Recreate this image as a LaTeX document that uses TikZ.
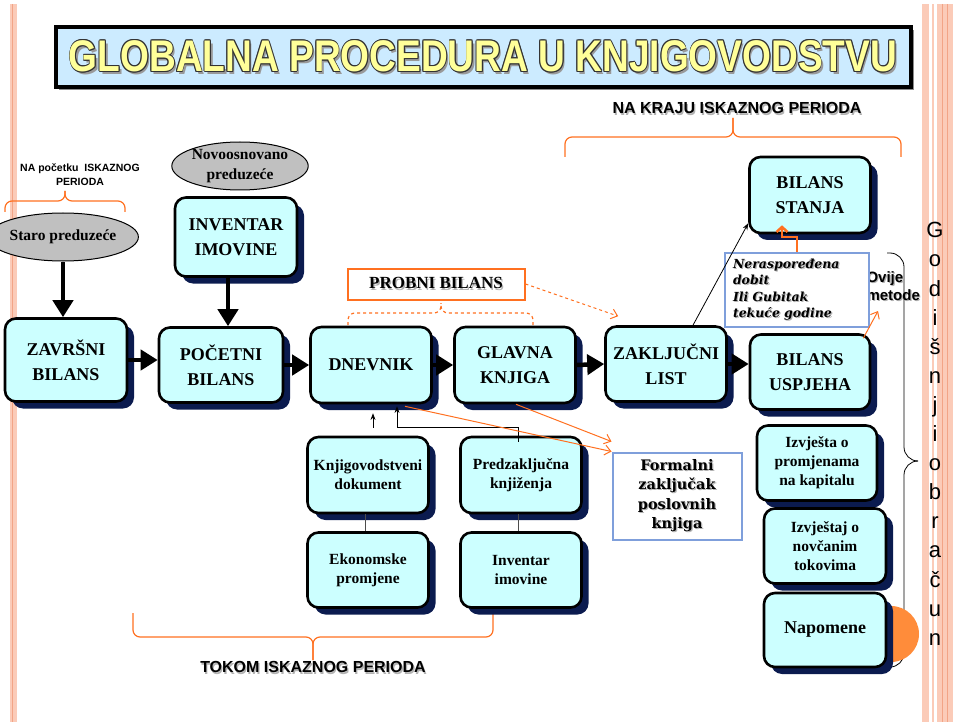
\documentclass[tikz,border=0pt]{standalone}
\usepackage{fontspec}
\usepackage{graphicx}
\setmainfont{Liberation Serif}
\setsansfont{Liberation Sans}
\newfontfamily\schfont{DejaVu Serif}
\usetikzlibrary{shapes.geometric, arrows.meta, positioning, shadows}

\definecolor{boxfill}{HTML}{CCFFFF}
\definecolor{boxshadow}{HTML}{0B1B4F}
\definecolor{framefill}{HTML}{CCEBFF}
\definecolor{titleyellow}{HTML}{FFFF99}
\definecolor{titleedge}{HTML}{333333}
\definecolor{lineorange}{HTML}{FF7020}
\definecolor{dotorange}{HTML}{FF8C3A}
\definecolor{ovalgray}{HTML}{C0C0C0}
\definecolor{noteblue}{HTML}{7F9FDB}
\definecolor{stripe}{HTML}{FBCBB8}
\definecolor{stripeline}{HTML}{F2A486}

% text with a soft shadow
\newcommand\shd[1]{\leavevmode\rlap{\hspace*{1.2pt}\raisebox{-1.2pt}{\color{black!30}#1}}#1}
% outlined title letters
\newcommand\outlined[1]{%
  \rlap{\hspace*{2.5pt}\raisebox{-2.5pt}{\color{black!40}#1}}%
  \rlap{\hspace*{-1pt}\color{titleedge}#1}%
  \rlap{\hspace*{1pt}\color{titleedge}#1}%
  \rlap{\raisebox{1pt}{\color{titleedge}#1}}%
  \rlap{\raisebox{-1pt}{\color{titleedge}#1}}%
  \rlap{\hspace*{0.7pt}\raisebox{0.7pt}{\color{titleedge}#1}}%
  \rlap{\hspace*{-0.7pt}\raisebox{-0.7pt}{\color{titleedge}#1}}%
  \rlap{\hspace*{0.7pt}\raisebox{-0.7pt}{\color{titleedge}#1}}%
  \rlap{\hspace*{-0.7pt}\raisebox{0.7pt}{\color{titleedge}#1}}%
  {\color{titleyellow}#1}}

\begin{document}
\begin{tikzpicture}[x=1pt, y=-1pt, >=Stealth,
    blk/.style={draw, line width=2.6pt, rounded corners=11pt, fill=boxfill, align=center, inner sep=1pt,
      general shadow={fill=boxshadow, shadow xshift=7pt, shadow yshift=-7pt}},
    bigbox/.style={blk, font=\bfseries\fontsize{18}{25}\selectfont},
    smallbox/.style={blk, font=\bfseries\fontsize{15.5}{19}\selectfont},
    oval/.style={draw, line width=1pt, ellipse, fill=ovalgray, align=center, inner sep=0pt,
      font=\bfseries\fontsize{15.5}{20}\selectfont},
    notebox/.style={draw=noteblue, line width=2pt, fill=white, align=center},
    bigarr/.style={line width=4.5pt, -{Triangle[length=17pt, width=20pt]}},
    thinarr/.style={line width=0.8pt, ->},
    orarr/.style={draw=lineorange, line width=1pt, -{Straight Barb[length=6pt, width=10pt]}},
    obrace/.style={draw=lineorange, line width=1.2pt, rounded corners=7pt},
    period/.style={font=\sffamily\bfseries\fontsize{16}{18}\selectfont}]

    \useasboundingbox (0,0) rectangle (953,722);

    % side stripes
    \fill[stripe] (10,4) rectangle (17,722);
    \draw[stripeline, line width=1pt] (12.5,4) -- (12.5,722);
    \fill[stripe] (922,4) rectangle (929,722);
    \fill[stripe] (932,4) rectangle (934,722);
    \fill[stripe] (937,4) rectangle (953,722);
    \draw[stripeline, line width=0.8pt] (942,4) -- (942,722) (947,4) -- (947,722);

    % title
    \node[draw, line width=4pt, fill=framefill, minimum width=855, minimum height=60,
      font=\sffamily\bfseries\fontsize{42}{42}\selectfont,
      general shadow={fill=black!45, shadow xshift=3pt, shadow yshift=-3pt}] (naslov) at (483,57)
      {\resizebox{828pt}{32pt}{\outlined{GLOBALNA PROCEDURA U KNJIGOVODSTVU}}};

    % period labels and braces
    \node[period] (kraj) at (737,109) {\shd{NA KRAJU ISKAZNOG PERIODA}};
    \node[period] (tokom) at (313,668) {\shd{TOKOM ISKAZNOG PERIODA}};
    \node[font=\sffamily\bfseries\fontsize{10.5}{14}\selectfont, align=center] (pocetak) at (80,175)
      {NA početku\ \ ISKAZNOG\\PERIODA};
    \draw[obrace] (5,212) |- (65,201) -- (65,191);
    \draw[obrace] (125,212) |- (65,201) -- (65,191);
    \draw[obrace] (565,157) |- (733,137) -- (733,118);
    \draw[obrace] (901,157) |- (733,137) -- (733,118);
    \draw[obrace] (133,613) |- (313,637) -- (313,660);
    \draw[obrace] (493,613) |- (313,637) -- (313,660);
    \draw[obrace, dashed] (348,325) |- (441,313) -- (441,303);
    \draw[obrace, dashed] (533,325) |- (441,313) -- (441,303);
    \draw[line width=0.8pt, rounded corners=14pt] (887,253) -| (904,461) -- (918,461);
    \draw[line width=0.8pt, rounded corners=14pt] (887,667) -| (904,461) -- (918,461);

    \node[font=\sffamily\fontsize{22}{29.1}\selectfont, align=center, anchor=north] (godisnji) at (935,219)
      {G\\o\\d\\i\\š\\n\\j\\i\\o\\b\\r\\a\\č\\u\\n};

    % ovals
    \node[oval, minimum width=117, minimum height=48] (staro) at (63,237) {Staro preduzeće};
    \node[oval, minimum width=115, minimum height=48] (novo) at (240,166) {Novoosnovano\\preduzeće};

    % main row
    \node[bigbox, minimum width=122, minimum height=83] (zav) at (66,360) {ZAVRŠNI\\BILANS};
    \node[bigbox, minimum width=124, minimum height=75] (poc) at (221,365) {POČETNI\\BILANS};
    \node[bigbox, minimum width=122, minimum height=79] (inv) at (236,237) {INVENTAR\\IMOVINE};
    \node[bigbox, minimum width=121, minimum height=76] (dne) at (371,365) {DNEVNIK};
    \node[bigbox, minimum width=121, minimum height=76] (gla) at (515,365) {GLAVNA\\KNJIGA};
    \node[bigbox, minimum width=121, minimum height=75] (zak) at (666,364) {ZAKLJUČNI\\LIST};
    \node[bigbox, minimum width=120, minimum height=75] (bu) at (810,372) {BILANS\\USPJEHA};
    \node[bigbox, minimum width=121, minimum height=76] (bs) at (810,195) {BILANS\\STANJA};

    % lower boxes
    \node[smallbox, minimum width=121, minimum height=76] (knj) at (368,475) {Knjigovodstveni\\dokument};
    \node[smallbox, minimum width=121, minimum height=76] (pre) at (521,475) {Predzaključna\\knjiženja};
    \node[smallbox, minimum width=121, minimum height=75] (eko) at (368,570) {Ekonomske\\promjene};
    \node[smallbox, minimum width=121, minimum height=75] (ii) at (521,570) {Inventar\\imovine};

    % right column
    \node[circle, fill=dotorange, minimum size=56] (dot) at (891,634) {};
    \node[smallbox, minimum width=120, minimum height=75] (ik) at (817,463) {Izvješta o\\promjenama\\na kapitalu};
    \node[smallbox, minimum width=122, minimum height=75] (nt) at (825,546) {Izvještaj o\\novčanim\\tokovima};
    \node[blk, minimum width=122, minimum height=74, font=\bfseries\fontsize{18}{22}\selectfont] (nap) at (825,630) {Napomene};

    % notes
    \node[draw=lineorange, line width=2pt, fill=white, minimum width=177, minimum height=31,
      font=\bfseries\fontsize{17}{20}\selectfont] (probni) at (436,284) {\shd{PROBNI BILANS}};
    \node[notebox, minimum width=129, minimum height=87, font=\schfont\bfseries\fontsize{14.5}{19.5}\selectfont] (formal) at (677,496)
      {\shd{Formalni}\\\shd{zaključak}\\\shd{poslovnih}\\\shd{knjiga}};
    \node[font=\sffamily\bfseries\fontsize{15}{18}\selectfont, align=left, anchor=west] (metode) at (863,287)
      {\shd{Ovije}\\\shd{metode}};
    \node[notebox, minimum width=144, minimum height=74, text width=128, align=left,
      font=\schfont\bfseries\itshape\fontsize{12.5}{16.5}\selectfont] (neras) at (797,290)
      {\shd{Neraspoređena}\\\shd{dobit}\\\shd{Ili Gubitak}\\\shd{tekuće godine}};

    % flow
    \draw[bigarr] (staro.south) -- (staro.south |- zav.north);
    \draw[bigarr] ([xshift=-8pt]inv.south) -- ([xshift=-8pt]inv.south |- poc.north);
    \draw[bigarr] (zav.east) -- (zav.east -| poc.west);
    \draw[bigarr] (poc.east) -- (dne.west);
    \draw[bigarr] (dne.east) -- (gla.west);
    \draw[bigarr] (gla.east) -- (zak.west);
    \draw[bigarr] (zak.east) -- (zak.east -| bu.west);

    \draw[black!70, line width=0.8pt] ([xshift=-3pt]knj.south) -- ([xshift=-3pt]eko.north);
    \draw[black!70, line width=0.8pt] ([xshift=-3pt]pre.south) -- ([xshift=-3pt]ii.north);
    \draw[thinarr] ([xshift=5pt, yshift=8pt]knj.north) -- ([xshift=2pt, yshift=-9pt]dne.south);
    \draw[thinarr] ([xshift=-3pt, yshift=-6pt]pre.north) -- ++(0,-14) -| ([xshift=26pt, yshift=-2pt]dne.south);
    \draw[thinarr] ([xshift=27pt]zak.north) -- ([yshift=11pt]bs.south west);

    \draw[orarr] ([xshift=34pt, yshift=-2pt]dne.south) -- (formal.north west);
    \draw[orarr] ([xshift=1pt]gla.south) -- ([yshift=10pt]formal.north west);
    \draw[orarr, dashed] (probni.east) -- ([xshift=14pt, yshift=9pt]zak.north west);
    \draw[orarr] ([xshift=-8pt, yshift=-5pt]bu.north east) -- ([xshift=8pt, yshift=17pt]neras.south east);
    \draw[draw=lineorange, line width=2.5pt, -{Straight Barb[length=5pt, width=11pt]}]
      (neras.north) -- ++(0,-15) -| ([xshift=-28pt, yshift=9pt]bs.south);
\end{tikzpicture}
\end{document}
